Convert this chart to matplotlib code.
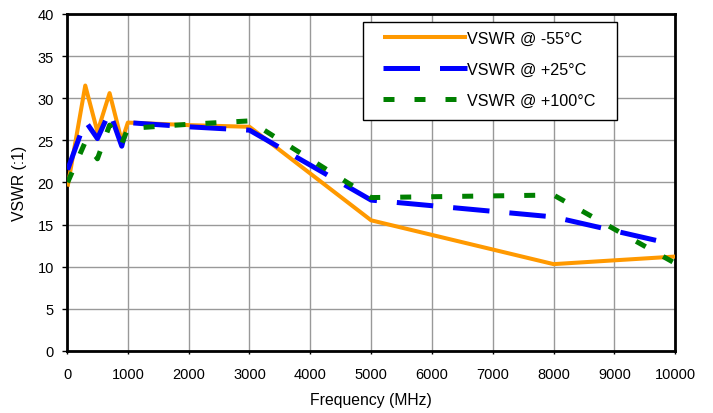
import matplotlib
matplotlib.use('Agg')
import matplotlib.pyplot as plt
from matplotlib.patches import Rectangle

plt.rcParams['font.family'] = ['Liberation Sans', 'DejaVu Sans']

# frequency points (MHz)
freq = [10, 300, 500, 700, 900, 1000, 2000, 3000, 5000, 8000, 10000]

# VSWR values
vswr_m55 = [19.5, 31.5, 26.0, 30.6, 24.9, 27.1, 26.8, 26.6, 15.5, 10.3, 11.2]
vswr_p25 = [21.5, 27.3, 25.2, 28.4, 24.3, 27.1, 26.6, 26.2, 17.9, 15.9, 12.6]
vswr_p100 = [20.0, 24.8, 22.8, 26.8, 24.6, 26.4, 26.9, 27.3, 18.2, 18.5, 10.4]

labels = ['VSWR @ -55°C', 'VSWR @ +25°C', 'VSWR @ +100°C']

fig = plt.figure(figsize=(7.13, 4.14), dpi=100)
ax = fig.add_axes([0.094, 0.150, 0.853, 0.814])

ax.plot(freq, vswr_m55, color='#FF9900', lw=2.9, solid_capstyle='butt', label=labels[0], zorder=3)
ax.plot(freq, vswr_p25, color='#0000FF', lw=3.6, dashes=(7.3, 4.0), label=labels[1], zorder=4)
ax.plot(freq, vswr_p100, color='#008000', lw=3.6, dashes=(2.2, 4.0), label=labels[2], zorder=5)

ax.set_xlim(0, 10000)
ax.set_ylim(0, 40)
ax.set_xticks(range(0, 10001, 1000))
ax.set_yticks(range(0, 41, 5))
ax.grid(True, color='#999999', lw=1)
ax.set_axisbelow(True)
for s in ax.spines.values():
    s.set_linewidth(2)
    s.set_color('black')
ax.tick_params(axis='x', labelsize=10.5, length=2.2, width=1, pad=9.5)
ax.tick_params(axis='y', labelsize=10.5, length=3.5, width=1, pad=6)

ax.set_xlabel('Frequency (MHz)', fontsize=11.3, labelpad=8)
ax.set_ylabel('VSWR (:1)', fontsize=11.3)
ax.yaxis.set_label_coords(-0.066, 0.5)

# legend, frame drawn separately so the side padding can differ
leg = ax.legend(loc='upper left', bbox_to_anchor=(0.498, 0.988), fontsize=11.6,
                handlelength=5.2, handletextpad=0.0, labelspacing=1.0,
                borderpad=0.3, frameon=False)
leg.set_zorder(10)
fig.canvas.draw()
bb = leg.get_window_extent().transformed(fig.transFigure.inverted())
pw, ph = 1 / 713, 1 / 414
frame = Rectangle((bb.x0 - 15 * pw, bb.y0 - 7 * ph),
                  bb.width + 32 * pw, bb.height + 11 * ph,
                  transform=fig.transFigure, facecolor='white',
                  edgecolor='black', lw=1, zorder=9, clip_on=False)
ax.add_patch(frame)

fig.savefig('out.png', dpi=100)
